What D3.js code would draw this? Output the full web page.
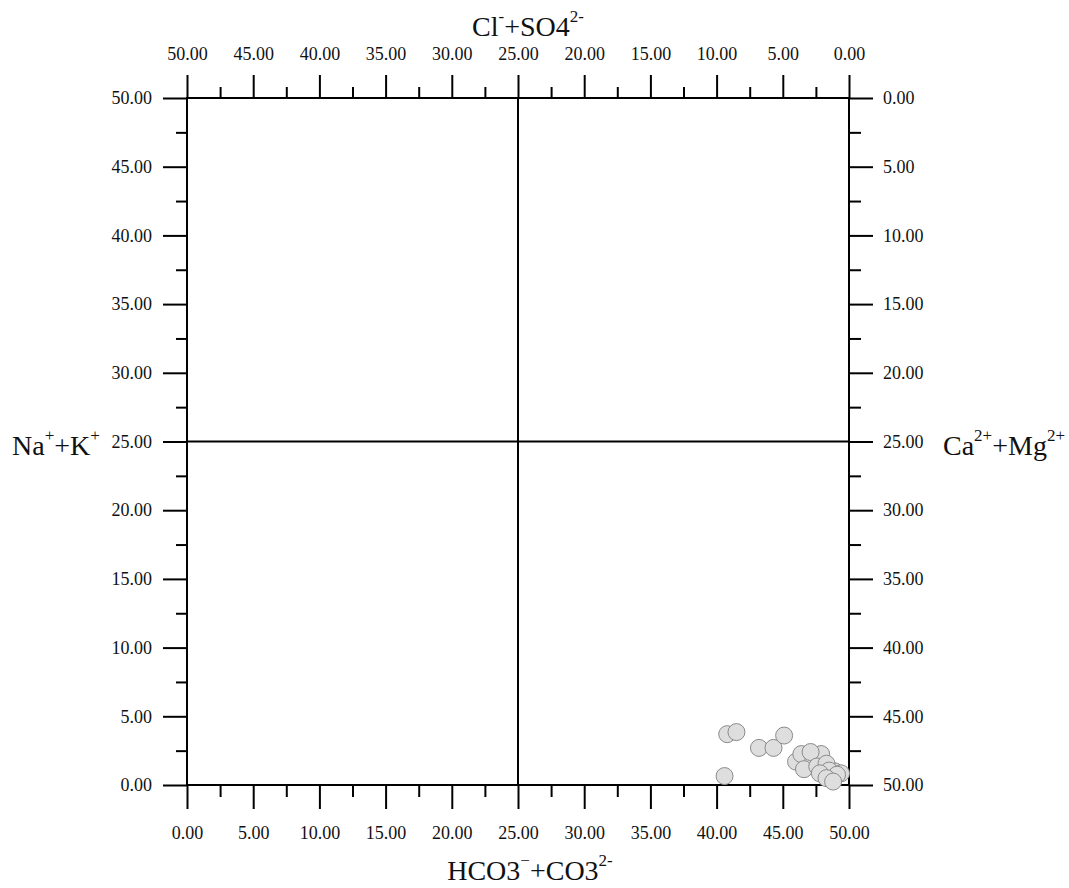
<!DOCTYPE html>
<html>
<head>
<meta charset="utf-8">
<script src="https://cdn.jsdelivr.net/npm/d3@7"></script>
<style>
  html, body { margin: 0; padding: 0; background: #fff; }
  svg text { font-family: "Liberation Serif", "Times New Roman", serif; fill: #111; }
</style>
</head>
<body>
<svg id="chart" width="1069" height="888"></svg>
<script>
// Samples: HCO3- + CO3 2- (x) versus Na+ + K+ (y), in meq %
const hco3 = [46.8, 48.9, 40.8, 41.5, 40.6, 43.2, 44.3, 45.1, 46.0, 46.4, 47.3, 47.9, 47.1, 46.6, 47.6, 48.3, 48.5, 47.8, 49.4, 49.1, 48.3, 48.8];
const naK  = [2.0, 1.0, 3.7, 3.85, 0.65, 2.7, 2.7, 3.6, 1.7, 2.25, 1.8, 2.25, 2.4, 1.15, 1.35, 1.55, 1.05, 0.85, 0.85, 0.75, 0.5, 0.25];

const majorTicks = [0, 5, 10, 15, 20, 25, 30, 35, 40, 45, 50];
const minorTicks = [2.5, 7.5, 12.5, 17.5, 22.5, 27.5, 32.5, 37.5, 42.5, 47.5];

const svg = d3.select("#chart");
const plotL = 187, plotR = 849, plotT = 98, plotB = 785;

const x = d3.scaleLinear().domain([0, 50]).range([plotL, plotR]);
const xTop = d3.scaleLinear().domain([50, 0]).range([plotL, plotR]);
const y = d3.scaleLinear().domain([0, 50]).range([plotB, plotT]);
const yRight = d3.scaleLinear().domain([50, 0]).range([plotB, plotT]);

const fmt = d3.format(".2f");
const tickFont = 18;

function styleAxis(g) {
  g.select(".domain").remove();
  g.selectAll(".tick line").attr("stroke", "#000").attr("stroke-width", 2);
  g.selectAll(".tick text")
    .attr("font-family", "Liberation Serif, Times New Roman, serif")
    .attr("font-size", tickFont)
    .attr("fill", "#111");
}

// Bottom axis
svg.append("g").attr("transform", `translate(0,${plotB})`)
  .call(d3.axisBottom(x).tickValues(majorTicks).tickSize(24).tickPadding(17).tickFormat(fmt))
  .call(styleAxis);
svg.append("g").attr("transform", `translate(0,${plotB})`)
  .call(d3.axisBottom(x).tickValues(minorTicks).tickSize(12).tickFormat(""))
  .call(styleAxis);

// Top axis
svg.append("g").attr("transform", `translate(0,${plotT})`)
  .call(d3.axisTop(xTop).tickValues(majorTicks).tickSize(23).tickPadding(15).tickFormat(fmt))
  .call(styleAxis);
svg.append("g").attr("transform", `translate(0,${plotT})`)
  .call(d3.axisTop(xTop).tickValues(minorTicks).tickSize(11).tickFormat(""))
  .call(styleAxis);

// Left axis
svg.append("g").attr("transform", `translate(${plotL},0)`)
  .call(d3.axisLeft(y).tickValues(majorTicks).tickSize(24).tickPadding(11).tickFormat(fmt))
  .call(styleAxis);
svg.append("g").attr("transform", `translate(${plotL},0)`)
  .call(d3.axisLeft(y).tickValues(minorTicks).tickSize(11).tickFormat(""))
  .call(styleAxis);

// Right axis
svg.append("g").attr("transform", `translate(${plotR},0)`)
  .call(d3.axisRight(yRight).tickValues(majorTicks).tickSize(24).tickPadding(10).tickFormat(fmt))
  .call(styleAxis);
svg.append("g").attr("transform", `translate(${plotR},0)`)
  .call(d3.axisRight(yRight).tickValues(minorTicks).tickSize(12).tickFormat(""))
  .call(styleAxis);

// Frame and centre cross
svg.append("rect")
  .attr("x", plotL).attr("y", plotT)
  .attr("width", plotR - plotL).attr("height", plotB - plotT)
  .attr("fill", "none").attr("stroke", "#000").attr("stroke-width", 2);
svg.append("line")
  .attr("x1", x(25)).attr("x2", x(25)).attr("y1", plotT).attr("y2", plotB)
  .attr("stroke", "#000").attr("stroke-width", 2);
svg.append("line")
  .attr("x1", plotL).attr("x2", plotR).attr("y1", y(25)).attr("y2", y(25))
  .attr("stroke", "#000").attr("stroke-width", 2);

// Sample points
svg.append("g").selectAll("circle")
  .data(d3.range(hco3.length))
  .join("circle")
  .attr("cx", i => x(hco3[i]))
  .attr("cy", i => y(naK[i]))
  .attr("r", 8.5)
  .attr("fill", "#dedede")
  .attr("stroke", "#8a8a8a")
  .attr("stroke-width", 1);

// Axis titles with superscripts
function title(parts, px, py, anchor) {
  const t = svg.append("text")
    .attr("x", px).attr("y", py)
    .attr("font-size", 28)
    .attr("text-anchor", anchor);
  parts.forEach(p => {
    const s = t.append("tspan").text(p.t);
    if (p.sup) s.attr("font-size", 17).attr("dy", -14);
    else if (p.after) s.attr("dy", 14);
  });
  return t;
}

title([{t: "Cl"}, {t: "-", sup: true}, {t: "+SO4", after: true}, {t: "2-", sup: true}], 528, 36, "middle");
title([{t: "HCO3"}, {t: "\u2212", sup: true}, {t: "+CO3", after: true}, {t: "2-", sup: true}], 530, 880, "middle");
title([{t: "Na"}, {t: "+", sup: true}, {t: "+K", after: true}, {t: "+", sup: true}], 12, 455, "start");
title([{t: "Ca"}, {t: "2+", sup: true}, {t: "+Mg", after: true}, {t: "2+", sup: true}], 943, 455, "start");
</script>
</body>
</html>
